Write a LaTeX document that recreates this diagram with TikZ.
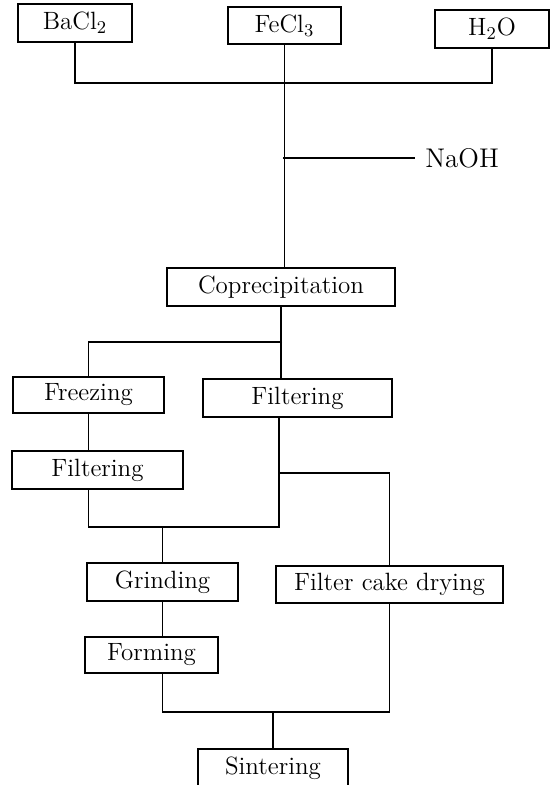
\documentclass[tikz,border=0pt]{standalone}
\usepackage{tikz}
\usetikzlibrary{positioning}

\tikzset{
  stage/.style={draw, line width=0.9pt, minimum height=19pt, inner sep=2pt,
    font=\fontsize{12.5}{15}\selectfont},
  flow/.style={line width=0.85pt}
}

\begin{document}
\begin{tikzpicture}[x=0.5pt, y=-0.5pt]
  \useasboundingbox (0,0) rectangle (559,785);
  % Raw materials
  \node[stage, minimum width=57pt] (bacl) at (75,23) {BaCl$_2$};
  \node[stage, minimum width=56.5pt, minimum height=18.5pt] (fecl) at (284.5,25.5) {FeCl$_3$};
  \node[stage, minimum width=57pt] (water) at (492,29) {H$_2$O};
  % Process steps
  \node[stage, minimum width=114pt] (coprec) at (281,287) {Coprecipitation};
  \node[stage, minimum width=75.5pt, minimum height=18pt] (freeze) at (88.5,395) {Freezing};
  \node[stage, minimum width=94.5pt] (filtR) at (297.5,398) {Filtering};
  \node[stage, minimum width=85.5pt] (filtL) at (97.5,470) {Filtering};
  \node[stage, minimum width=75.5pt] (grind) at (162.5,582) {Grinding};
  \node[stage, minimum width=113.5pt, minimum height=18.5pt] (drying) at (389.5,584.5) {Filter cake drying};
  \node[stage, minimum width=66.5pt, minimum height=18pt] (form) at (151.5,655) {Forming};
  \node[stage, minimum width=75pt] (sinter) at (273,768) {Sintering};
  \node[anchor=west, inner xsep=5pt, font=\fontsize{13.5}{16}\selectfont] (naoh) at (415,158) {NaOH};
  % Junctions
  \coordinate (mix) at (283,83);
  \coordinate (base) at (283,158);
  \coordinate (split) at (282,342);
  \coordinate (cake) at (279,473);
  \coordinate (join) at (279,527);
  \coordinate (fire) at (273,712);
  % Connectors
  \draw[flow] (bacl.south) |- (mix) -| (water.south);
  \draw[flow] (fecl.south) -- (fecl.south |- coprec.north);
  \draw[flow] (base) -- (naoh.west);
  \draw[flow] (coprec.south) -- (coprec.south |- filtR.north);
  \draw[flow] (split) -| (freeze.north);
  \draw[flow] (freeze.south) -- (freeze.south |- filtL.north);
  \draw[flow] (freeze.south |- filtL.south) |- (join) -- (join |- filtR.south);
  \draw[flow] (cake) -| (drying.north);
  \draw[flow] (grind.north |- join) -- (grind.north);
  \draw[flow] (grind.south) -- (grind.south |- form.north);
  \draw[flow] (grind.south |- form.south) |- (fire) -| (drying.south);
  \draw[flow] (fire) -- (sinter.north);
\end{tikzpicture}
\end{document}
